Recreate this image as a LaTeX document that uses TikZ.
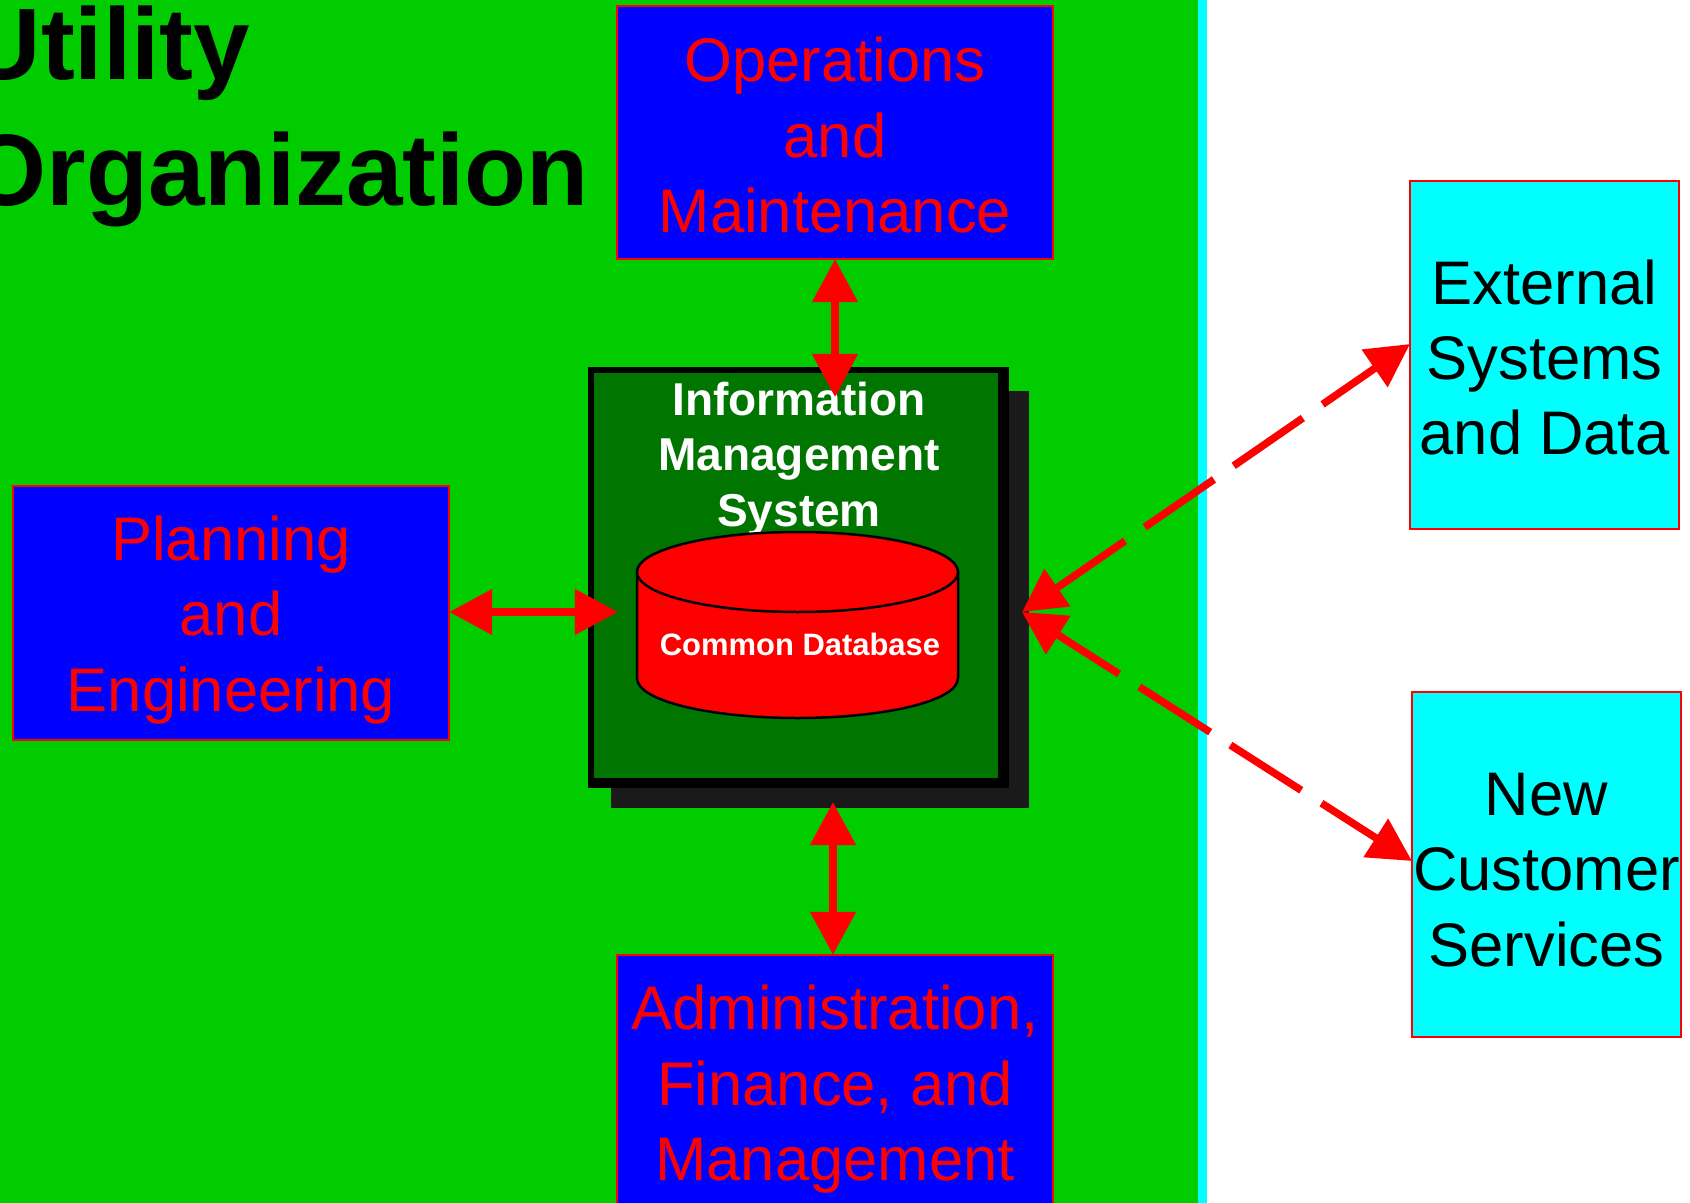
\documentclass[tikz,border=0pt]{standalone}
\usepackage{fontspec}
\setmainfont{Liberation Sans}
\usetikzlibrary{arrows.meta}
\definecolor{bggreen}{HTML}{00CC00}
\definecolor{imsgreen}{HTML}{007500}
\definecolor{shadowgray}{HTML}{1A1A1A}
\definecolor{purecyan}{HTML}{00FFFF}
\tikzset{
  boxtext/.style={font=\fontsize{17.5}{21.4}\selectfont, align=center, inner sep=0pt, outer sep=0pt, draw=red, line width=0.02cm},
  bluebox/.style={boxtext, fill=blue, text=red},
  cyanbox/.style={boxtext, fill=purecyan, text=black, minimum width=2.69cm},
  dataflow/.style={{Triangle[length=0.43cm,width=0.44cm]}-{Triangle[length=0.43cm,width=0.44cm]}, red, line width=0.075cm},
  dashflow/.style={dataflow, dash pattern=on 0.84cm off 0.24cm}
}
\begin{document}
\begin{tikzpicture}[x=0.01cm, y=-0.01cm]
\useasboundingbox (0,0) rectangle (1690,1203);
\clip (0,0) rectangle (1690,1203);

% Background
\fill[bggreen] (0,0) rectangle (1198,1203);
\fill[purecyan] (1198,0) rectangle (1207,1203);

% Title
\node[anchor=west, inner sep=0pt, align=left, font=\fontsize{28.9}{35.6}\selectfont\bfseries] (title) at (-33,116.5) {Utility\\Organization};

% Information system
\fill[shadowgray] (611,391) rectangle (1029,808);
\node[fill=black, minimum width=4.21cm, minimum height=4.20cm, inner sep=0pt] (ims) at (798.5,577.5) {};
\fill[imsgreen] (594,373) rectangle (998,778);
\node[text=white, inner sep=0pt, align=center, font=\fontsize{13.1}{15.9}\selectfont\bfseries] (imslabel) at (799,459) {Information\\Management\\System};

% Database
\draw[fill=red, line width=0.025cm] (637,572) -- (637,678) .. controls (637,702) and (715,718) .. (797.5,718) .. controls (880,718) and (958,702) .. (958,678) -- (958,572) -- cycle;
\draw[fill=red, line width=0.025cm] (797.5,572) ellipse [x radius=160.5, y radius=40];
\node[text=white, inner sep=0pt, font=\fontsize{8.8}{10}\selectfont\bfseries] (dblabel) at (800,644) {Common Database};

% Departments
\node[bluebox, minimum width=4.36cm, minimum height=2.53cm] (ops) at (835,132.5) {\rule{0pt}{14.2pt}Operations\\and\\Maintenance};
\node[bluebox, minimum width=4.36cm, minimum height=2.54cm] (plan) at (231,613) {\rule{0pt}{16.7pt}Planning\\and\\Engineering};
\node[bluebox, minimum width=4.36cm, minimum height=2.60cm] (admin) at (835,1085) {\rule{0pt}{15.1pt}Administration,\\Finance, and\\Management};

% Outside the organization
\node[cyanbox, minimum height=3.48cm] (ext) at (1544.5,355) {\rule{0pt}{14pt}External\\Systems\\and Data};
\node[cyanbox, minimum height=3.45cm] (new) at (1546.5,864.5) {\rule{0pt}{15.1pt}New\\Customer\\Services};

% Connector ends
\coordinate (imstop) at (835,397);
\coordinate (imsleft) at (618,612);
\coordinate (imsbottom) at (833,802);
\coordinate (imsright) at (1022,612);
\coordinate (extin) at (1410,344);
\coordinate (newin) at (1412,861);

\draw[dataflow] (ops.south -| imstop) -- (imstop);
\draw[dataflow] (plan.east |- imsleft) -- (imsleft);
\draw[dataflow] (admin.north -| imsbottom) -- (imsbottom);
\draw[dashflow] (imsright) -- (extin);
\draw[dashflow, dash phase=0.1cm] (imsright) -- (newin);
\end{tikzpicture}
\end{document}
